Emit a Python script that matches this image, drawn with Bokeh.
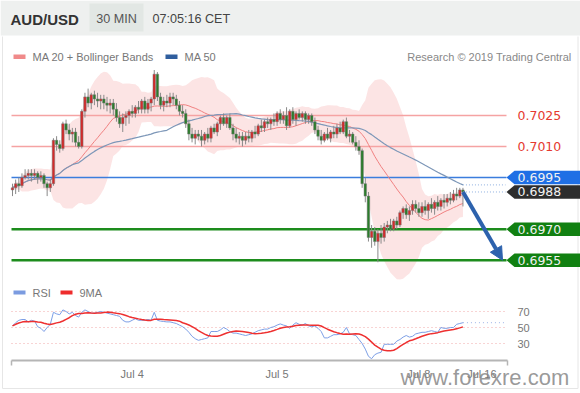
import numpy as np
import pandas as pd
from bokeh.plotting import figure
from bokeh.models import Range1d, Arrow, NormalHead
from bokeh.core.properties import value
from bokeh.embed import file_html
from bokeh.resources import INLINE

# ---------------- data (30-min AUD/USD candles, pips above 0.6900) ----------------
PIP_BASE = 0.6900
PIP = 0.0001

open_pips = [89, 90, 92, 91, 95, 96, 97, 96, 97, 95,
             96, 92, 90, 92, 113, 111, 109, 121, 118, 116,
             117, 112, 110, 127, 134, 131, 135, 133, 132, 133,
             131, 130, 131, 128, 124, 121, 124, 125, 127, 126,
             129, 128, 132, 128, 131, 133, 145, 134, 130, 132,
             131, 134, 133, 130, 127, 126, 121, 116, 114, 116,
             115, 113, 116, 114, 119, 117, 121, 124, 121, 124,
             119, 116, 114, 115, 113, 115, 114, 117, 116, 120,
             119, 122, 121, 123, 122, 126, 123, 125, 120, 127,
             123, 126, 124, 126, 123, 125, 122, 118, 115, 113,
             116, 114, 117, 116, 119, 117, 122, 115, 116, 112,
             110, 108, 92, 86, 66, 69, 64, 68, 66, 71,
             72, 70, 74, 72, 78, 80, 77, 79, 82, 80,
             78, 81, 79, 82, 80, 83, 81, 84, 83, 85,
             84, 87, 86, 89]
high_pips = [92, 94, 95, 97, 99, 99, 99, 99, 98, 98,
             97, 93, 94, 114, 115, 113, 122, 123, 121, 119,
             119, 115, 128, 136, 138, 136, 137, 136, 135, 135,
             134, 133, 133, 131, 127, 126, 127, 128, 130, 130,
             132, 133, 134, 133, 134, 147, 146, 136, 134, 135,
             136, 136, 135, 132, 130, 128, 123, 119, 118, 118,
             118, 117, 119, 120, 121, 122, 125, 126, 125, 126,
             121, 119, 117, 117, 117, 118, 118, 120, 121, 123,
             123, 124, 124, 126, 127, 128, 127, 129, 128, 129,
             127, 128, 127, 127, 126, 126, 124, 120, 118, 117,
             119, 118, 120, 121, 122, 123, 124, 118, 117, 115,
             113, 109, 95, 88, 72, 71, 70, 72, 73, 74,
             75, 75, 76, 79, 81, 82, 81, 84, 84, 83,
             83, 84, 83, 85, 84, 86, 85, 87, 87, 88,
             89, 90, 90, 90]
low_pips = [86, 87, 88, 90, 94, 94, 93, 94, 92, 93,
            90, 86, 88, 91, 108, 107, 108, 116, 113, 112,
            110, 109, 109, 124, 129, 128, 130, 129, 128, 128,
            127, 126, 125, 122, 119, 117, 120, 121, 124, 124,
            126, 126, 126, 126, 127, 130, 132, 128, 127, 129,
            129, 130, 128, 125, 124, 119, 113, 112, 111, 113,
            110, 111, 112, 112, 116, 115, 118, 120, 119, 118,
            113, 112, 111, 110, 111, 112, 112, 114, 115, 117,
            117, 119, 118, 120, 120, 121, 121, 118, 119, 121,
            120, 123, 122, 121, 121, 120, 116, 113, 111, 112,
            113, 112, 114, 114, 116, 116, 114, 112, 111, 108,
            106, 90, 83, 64, 61, 62, 54, 63, 64, 68,
            69, 69, 70, 71, 75, 75, 74, 77, 78, 76,
            76, 77, 75, 78, 77, 79, 79, 80, 81, 82,
            83, 84, 85, 81]
close_pips = [90, 92, 91, 95, 96, 97, 96, 97, 95, 96,
              92, 90, 92, 113, 111, 109, 121, 118, 116, 117,
              112, 110, 127, 134, 131, 135, 133, 132, 133, 131,
              130, 131, 128, 124, 121, 124, 125, 127, 126, 129,
              128, 132, 128, 131, 133, 145, 134, 130, 132, 131,
              134, 133, 130, 127, 126, 121, 116, 114, 116, 115,
              113, 116, 114, 119, 117, 121, 124, 121, 124, 119,
              116, 114, 115, 113, 115, 114, 117, 116, 120, 119,
              122, 121, 123, 122, 126, 123, 125, 120, 127, 123,
              126, 124, 126, 123, 125, 122, 118, 115, 113, 116,
              114, 117, 116, 119, 117, 122, 115, 116, 112, 110,
              108, 92, 86, 66, 69, 64, 68, 66, 71, 72,
              70, 74, 72, 78, 80, 77, 79, 82, 80, 78,
              81, 79, 82, 80, 83, 81, 84, 83, 85, 84,
              87, 86, 89, 88]
rsi_values = [52, 56, 59, 60, 60, 57, 59, 58, 51, 49,
              45, 50, 54, 69, 67, 66, 72, 70, 67, 69,
              65, 63, 69, 72, 70, 68, 68, 69, 70, 69,
              68, 67, 66, 65, 64, 59, 57, 57, 59, 61,
              59, 59, 59, 60, 59, 69, 59, 58, 57.5, 57,
              57, 56, 55, 53, 51, 48, 44, 39, 36, 34,
              35, 36, 37, 45, 45, 45, 47, 50, 48, 45,
              43, 43, 42, 41, 40, 41, 42, 44, 46, 47,
              48, 48, 50, 51, 53, 54.5, 53, 52, 49, 53,
              56, 54, 53, 55, 52, 51, 52, 49, 45, 37,
              37, 39, 41, 41, 42, 44, 50, 42, 41, 40,
              35, 30, 23, 14, 11, 16, 18, 19, 29, 29,
              29, 29, 33, 35, 38, 40, 38, 39, 42, 43,
              44, 44, 45, 46, 45, 44, 50, 49, 49, 50,
              50, 54, 55, 56]

level_prices = [0.7025, 0.7010, 0.6995, 0.6988, 0.6970, 0.6955]
level_kinds = ["resistance", "resistance", "ma", "last", "support", "support"]
date_tick_index = [38, 84, 129, 149]
date_tick_labels = ["Jul 4", "Jul 5", "Jul 8", "Jul 16"]
rsi_levels = [70, 50, 30]
pair_name = "AUD/USD"
timeframe = "30 MIN"
clock_text = "07:05:16 CET"
credit_text = "Research \u00a9 2019 Trading Central"
watermark_text = "www.forexre.com"

# ---------------- derived series ----------------
n = len(close_pips)
idx = np.arange(n)
o = PIP_BASE + np.array(open_pips, dtype=float) * PIP
h = PIP_BASE + np.array(high_pips, dtype=float) * PIP
l = PIP_BASE + np.array(low_pips, dtype=float) * PIP
c = PIP_BASE + np.array(close_pips, dtype=float) * PIP
cs = pd.Series(c)
ma20 = cs.rolling(20, min_periods=1).mean()
sd20 = cs.rolling(20, min_periods=1).std(ddof=0)
bb_up = ma20 + 2 * sd20
bb_lo = ma20 - 2 * sd20
ma50 = cs.rolling(50, min_periods=1).mean()
rsi = pd.Series(rsi_values, dtype=float)
rsi_ma9 = rsi.rolling(9, min_periods=1).mean()

# ---------------- layout (pixels of the 580x393 picture) ----------------
W, H = 580, 393
X_C0, X_STEP = 12.0, 3.15          # candle 0 centre, px per candle
Y_ANCHOR, P_ANCHOR, PX_PIP = 177.0, 0.6995, 2.067
Y_R50, PX_RSI = 327.0, 0.8


def xi(px):
    return (px - X_C0) / X_STEP


def yp(py):
    return P_ANCHOR + (Y_ANCHOR - py) / PX_PIP * PIP


def yr(py):
    return 50 + (Y_R50 - py) / PX_RSI


FONT = value("Liberation Sans")

p = figure(width=W, height=H, title=None,
           x_range=Range1d(xi(0), xi(W)), y_range=Range1d(yp(H), yp(0)),
           output_backend="svg", toolbar_location=None,
           x_axis_location=None, y_axis_location=None,
           min_border_left=0, min_border_right=0, min_border_top=0, min_border_bottom=0,
           background_fill_color="#ffffff", border_fill_color="#ffffff", outline_line_color=None)
p.extra_y_ranges = {"rsi": Range1d(yr(H), yr(0))}
p.xgrid.visible = False
p.ygrid.visible = False


def txt(x, y, s, size, color, align="left", bold=False, rng="default", font=FONT, alpha=1.0):
    p.text(x=x if isinstance(x, (list, np.ndarray)) else [x],
           y=y if isinstance(y, (list, np.ndarray)) else [y],
           text=s if isinstance(s, list) else [s],
           text_font=font, text_font_size=size, text_color=color, text_alpha=alpha,
           text_align=align, text_baseline="middle", text_font_style="bold" if bold else "normal",
           y_range_name=rng)


# header band
p.quad(left=[xi(0)], right=[xi(W)], top=[yp(0)], bottom=[yp(35)], fill_color="#eef0ef", line_color=None)
p.quad(left=[xi(89)], right=[xi(143)], top=[yp(3)], bottom=[yp(31)], fill_color="#e2e7e4", line_color=None)
txt(xi(10), yp(18.5), pair_name, "15px", "#333333", bold=True)
txt(xi(116), yp(18.5), timeframe, "12.6px", "#555555", align="center")
txt(xi(152), yp(18.5), clock_text, "12.6px", "#444444")

# frame lines of the picture
p.segment(x0=[xi(2)], y0=[yp(36)], x1=[xi(2)], y1=[yp(388)], line_color="#e6e6e6", line_width=1)
p.segment(x0=[xi(577.5)], y0=[yp(36)], x1=[xi(577.5)], y1=[yp(388)], line_color="#e6e6e6", line_width=1)
p.segment(x0=[xi(2)], y0=[yp(388)], x1=[xi(577.5)], y1=[yp(388)], line_color="#e6e6e6", line_width=1)

# legend rows
p.quad(left=[xi(13)], right=[xi(25)], top=[yp(54)], bottom=[yp(58.5)], fill_color="#f08a8a", line_color=None)
txt(xi(32), yp(56), "MA 20 + Bollinger Bands", "11px", "#777777")
p.quad(left=[xi(165)], right=[xi(177)], top=[yp(54)], bottom=[yp(58.5)], fill_color="#2f5e9e", line_color=None)
txt(xi(184), yp(56), "MA 50", "11px", "#777777")
txt(xi(571), yp(56), credit_text, "11px", "#888888", align="right")

# bollinger band
p.varea(x=idx, y1=bb_lo, y2=bb_up, fill_color="#f7b9b9", fill_alpha=0.38)

# level lines
line_style = {"resistance": ("#f5a3a3", 1.3), "ma": ("#3b7ddd", 1.5), "support": ("#1d8c1d", 2.6)}
for price, kind in zip(level_prices, level_kinds):
    if kind in line_style:
        col, lw = line_style[kind]
        p.segment(x0=[xi(11)], y0=[price], x1=[xi(506)], y1=[price], line_color=col, line_width=lw)

# moving averages
p.line(idx, ma20, line_color="#f08080", line_width=1)
p.line(idx, ma50, line_color="#7d97b8", line_width=1.2)

# candles
up = c >= o
p.segment(x0=idx, y0=l, x1=idx, y1=h, line_color="#8a8a8a", line_width=1)
p.vbar(x=idx[up], bottom=o[up], top=c[up], width=0.8, fill_color="#d42a2a", line_color="#777777", line_width=0.5)
p.vbar(x=idx[~up], bottom=c[~up], top=o[~up], width=0.8, fill_color="#2b7d2b", line_color="#777777", line_width=0.5)

# dotted extensions to the label column
p.segment(x0=[idx[-1]], y0=[ma50.iloc[-1]], x1=[xi(505)], y1=[ma50.iloc[-1]],
          line_color="#8fb0e0", line_width=1, line_dash="1 2")
p.segment(x0=[idx[-1]], y0=[c[-1]], x1=[xi(505)], y1=[c[-1]],
          line_color="#8fb0e0", line_width=1, line_dash="1 2")

# price labels
box_color = {"ma": "#1f6fe5", "last": "#2d2d2d", "support": "#118011"}
half = 6.75 / PX_PIP * PIP
LABEL_FONT = value("DejaVu Sans")
for price, kind in zip(level_prices, level_kinds):
    label = "%.4f" % price
    if kind == "resistance":
        txt(xi(517), price, label, "12.5px", "#e53a30", font=LABEL_FONT)
    else:
        xs = [xi(506), xi(514), xi(W + 5), xi(W + 5), xi(514)]
        ys = [price, price + half, price + half, price - half, price - half]
        p.patch(xs, ys, fill_color=box_color[kind], line_color=None)
        txt(xi(517), price, label, "12.5px", "#f2f2f2", font=LABEL_FONT)

# forecast arrow
p.add_layout(Arrow(end=NormalHead(size=13, fill_color="#2d62ad", line_color="#2d62ad"),
                   x_start=idx[-1], y_start=c[-1], x_end=xi(502), y_end=level_prices[-1],
                   line_width=4, line_color="#2d62ad"))

# ---------------- RSI panel ----------------
p.quad(left=[xi(13)], right=[xi(25)], top=[yp(290)], bottom=[yp(294)], fill_color="#7b9be0", line_color=None)
txt(xi(32), yp(292), "RSI", "11px", "#777777")
p.quad(left=[xi(60)], right=[xi(72)], top=[yp(290)], bottom=[yp(294)], fill_color="#ee2c2c", line_color=None)
txt(xi(79), yp(292), "9MA", "11px", "#777777")

for lv in rsi_levels:
    p.segment(x0=[xi(11)], y0=[lv], x1=[xi(507)], y1=[lv], line_color="#f0a8a8", line_width=1,
              line_dash="1 3", y_range_name="rsi")
    txt(xi(517), lv, str(lv), "11px", "#777777", rng="rsi")

p.line(idx, rsi, line_color="#7d9fe6", line_width=1, y_range_name="rsi")
p.line(idx, rsi_ma9, line_color="#ee3030", line_width=1.5, y_range_name="rsi")
p.segment(x0=[idx[-1]], y0=[rsi.iloc[-1]], x1=[xi(505)], y1=[rsi.iloc[-1]],
          line_color="#9db5e8", line_width=1, line_dash="1 3", y_range_name="rsi")

# time axis (baseline with end ticks, date labels)
p.segment(x0=[xi(11)], y0=[yr(360)], x1=[xi(507)], y1=[yr(360)], line_color="#b5b5b5", line_width=2,
          y_range_name="rsi")
p.segment(x0=[xi(11), xi(507)], y0=[yr(360), yr(360)], x1=[xi(11), xi(507)], y1=[yr(365), yr(365)],
          line_color="#b5b5b5", line_width=1.5, y_range_name="rsi")
txt(list(date_tick_index), [yr(373)] * len(date_tick_index), list(date_tick_labels), "11px", "#777777",
    align="center", rng="rsi")

# watermark
txt(xi(400), yr(377), watermark_text, "22px", "#888888", rng="rsi", alpha=0.85)

open("out.html", "w").write(file_html(p, INLINE))
